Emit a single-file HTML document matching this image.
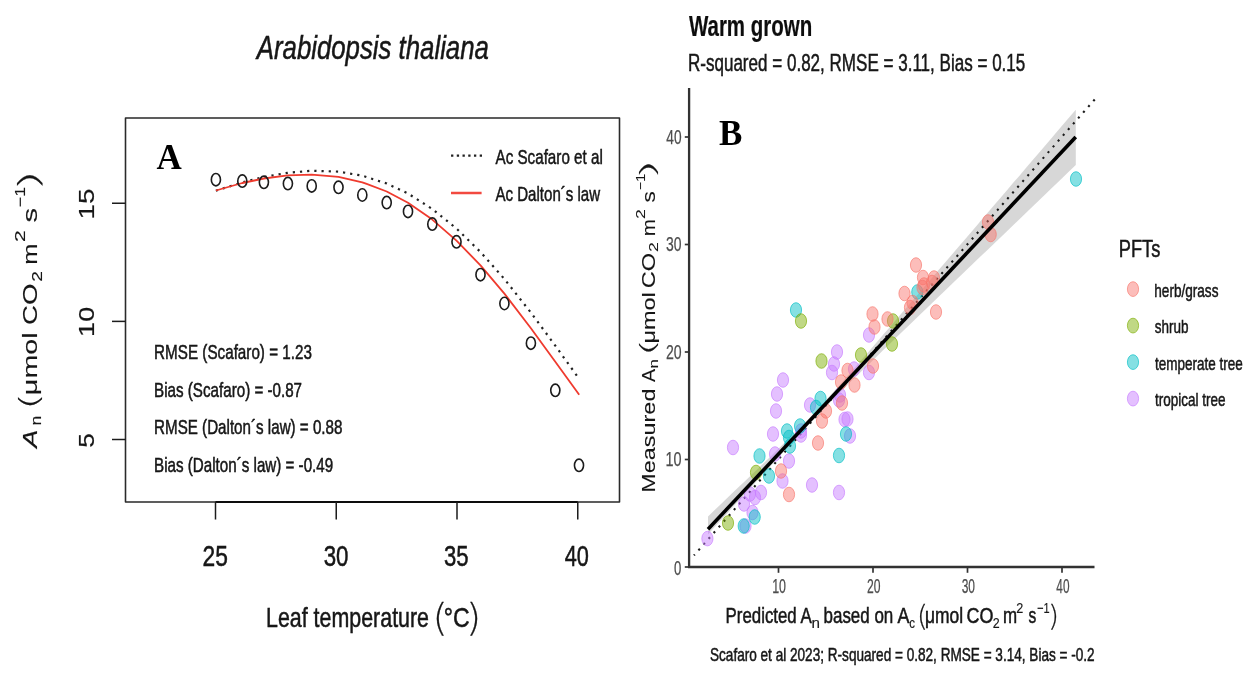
<!DOCTYPE html>
<html lang="en"><head><meta charset="utf-8"><title>Figure: A. thaliana temperature response and warm-grown model fit</title>
<style>
html,body{margin:0;padding:0;background:#fff;}
body{width:1256px;height:680px;overflow:hidden;font-family:"Liberation Sans", sans-serif;}
svg{display:block;}
text{font-family:"Liberation Sans", sans-serif;}
text.sf{font-family:"Liberation Serif", serif;}
text.lt{font-family:"DejaVu Sans", "Liberation Sans", sans-serif;font-weight:200;}
</style></head><body>
<svg width="1256" height="680" viewBox="0 0 1256 680">
<defs><filter id="soft" x="0" y="0" width="100%" height="100%" filterUnits="userSpaceOnUse"><feGaussianBlur stdDeviation="0.45"/></filter></defs>
<rect width="1256" height="680" fill="#fff"/>
<g filter="url(#soft)" fill="#151515">
<g id="left-plot">
<text x="256.79" y="58.6" textLength="232.08" lengthAdjust="spacingAndGlyphs" font-size="33" font-style="italic" stroke="#151515" stroke-width="0.5">Arabidopsis thaliana</text>
<rect x="125.5" y="118" width="494.0" height="384" fill="none" stroke="#2a2a2a" stroke-width="1.6" stroke-linejoin="round"/>
<path d="M215.5 502H577.75" stroke="#111" stroke-width="2.2" fill="none"/>
<path d="M215.50 502V519.5" stroke="#1c1c1c" stroke-width="1.5" fill="none"/>
<path d="M336.25 502V519.5" stroke="#1c1c1c" stroke-width="1.5" fill="none"/>
<path d="M457.00 502V519.5" stroke="#1c1c1c" stroke-width="1.5" fill="none"/>
<path d="M577.75 502V519.5" stroke="#1c1c1c" stroke-width="1.5" fill="none"/>
<path d="M112 439.50H125.5" stroke="#1c1c1c" stroke-width="1.5" fill="none"/>
<path d="M112 321.38H125.5" stroke="#1c1c1c" stroke-width="1.5" fill="none"/>
<path d="M112 203.25H125.5" stroke="#1c1c1c" stroke-width="1.5" fill="none"/>
<text x="202.61" y="565.6" textLength="25.35" lengthAdjust="spacingAndGlyphs" font-size="29.2" stroke="#151515" stroke-width="0.5">25</text>
<text x="323.66" y="565.6" textLength="24.83" lengthAdjust="spacingAndGlyphs" font-size="29.2" stroke="#151515" stroke-width="0.5">30</text>
<text x="443.97" y="565.6" textLength="24.56" lengthAdjust="spacingAndGlyphs" font-size="29.2" stroke="#151515" stroke-width="0.5">35</text>
<text x="564.71" y="565.6" textLength="24.15" lengthAdjust="spacingAndGlyphs" font-size="29.2" stroke="#151515" stroke-width="0.5">40</text>
<text x="265.99" y="627.3" textLength="163.04" lengthAdjust="spacingAndGlyphs" font-size="27.2" stroke="#151515" stroke-width="0.5">Leaf temperature</text>
<text transform="translate(0,629.93) scale(1,1.1040)" x="432.64" y="0" textLength="14.74" lengthAdjust="spacingAndGlyphs" font-size="34" class="lt" stroke="#151515" stroke-width="0.25">(</text>
<text x="443.67" y="627.3" textLength="25.88" lengthAdjust="spacingAndGlyphs" font-size="27.2" stroke="#151515" stroke-width="0.5">°C</text>
<text transform="translate(0,629.93) scale(1,1.1040)" x="466.34" y="0" textLength="14.74" lengthAdjust="spacingAndGlyphs" font-size="34" class="lt" stroke="#151515" stroke-width="0.25">)</text>
<text transform="translate(94.08,0) rotate(-90) scale(1,0.8386)" x="-219.59" y="0" textLength="30.97" lengthAdjust="spacingAndGlyphs" font-size="26.5" stroke="#151515" stroke-width="0.2">15</text>
<text transform="translate(94.08,0) rotate(-90) scale(1,0.8267)" x="-336.93" y="0" textLength="30.11" lengthAdjust="spacingAndGlyphs" font-size="26.5" stroke="#151515" stroke-width="0.2">10</text>
<text transform="translate(94.08,0) rotate(-90) scale(1,0.8386)" x="-447.64" y="0" textLength="14.52" lengthAdjust="spacingAndGlyphs" font-size="26.5" stroke="#151515" stroke-width="0.2">5</text>
<text transform="translate(37.099999999999994,0) rotate(-90) scale(1,0.7850)" x="-447.92" y="0" textLength="18.35" lengthAdjust="spacingAndGlyphs" font-size="26.7" font-style="italic" stroke="#151515" stroke-width="0.15">A</text>
<text transform="translate(40.8,0) rotate(-90) scale(1,0.7850)" x="-425.54" y="0" textLength="9.76" lengthAdjust="spacingAndGlyphs" font-size="18.7" stroke="#151515" stroke-width="0.15">n</text>
<text transform="translate(37.94,0) rotate(-90) scale(1,0.7979)" x="-409.98" y="0" textLength="17.34" lengthAdjust="spacingAndGlyphs" font-size="33.7" class="lt" stroke="#151515" stroke-width="0.15">(</text>
<text transform="translate(37.3,0) rotate(-90) scale(1,0.7850)" x="-395.16" y="0" textLength="62.73" lengthAdjust="spacingAndGlyphs" font-size="26.7" stroke="#151515" stroke-width="0.15">μmol</text>
<text transform="translate(37.3,0) rotate(-90) scale(1,0.7850)" x="-324.98" y="0" textLength="41.50" lengthAdjust="spacingAndGlyphs" font-size="26.7" stroke="#151515" stroke-width="0.15">CO</text>
<text transform="translate(42.4,0) rotate(-90) scale(1,0.7850)" x="-281.76" y="0" textLength="10.70" lengthAdjust="spacingAndGlyphs" font-size="18.7" stroke="#151515" stroke-width="0.15">2</text>
<text transform="translate(37.3,0) rotate(-90) scale(1,0.7850)" x="-264.65" y="0" textLength="21.11" lengthAdjust="spacingAndGlyphs" font-size="26.7" stroke="#151515" stroke-width="0.15">m</text>
<text transform="translate(24.9,0) rotate(-90) scale(1,0.7850)" x="-242.05" y="0" textLength="11.67" lengthAdjust="spacingAndGlyphs" font-size="18.7" stroke="#151515" stroke-width="0.15">2</text>
<text transform="translate(37.3,0) rotate(-90) scale(1,0.7850)" x="-222.40" y="0" textLength="14.51" lengthAdjust="spacingAndGlyphs" font-size="26.7" stroke="#151515" stroke-width="0.15">s</text>
<text transform="translate(24.9,0) rotate(-90) scale(1,0.7850)" x="-207.14" y="0" textLength="20.18" lengthAdjust="spacingAndGlyphs" font-size="18.7" stroke="#151515" stroke-width="0.15">−1</text>
<text transform="translate(38.63,0) rotate(-90) scale(1,0.8445)" x="-192.39" y="0" textLength="23.19" lengthAdjust="spacingAndGlyphs" font-size="33.7" class="lt" stroke="#151515" stroke-width="0.15">)</text>
<path d="M215.9 190.7 L242.3 182.4 L263.9 177.0 L287.9 172.8 L311.7 170.7 L338.5 171.6 L362.3 175.7 L386.7 183.5 L408.0 193.5 L432.3 209.0 L456.5 228.5 L480.5 252.0 L504.4 279.0 L530.9 312.6 L555.3 345.7 L579.2 378.9" fill="none" stroke="#222" stroke-width="2.2" stroke-dasharray="2.2 5.0"/>
<path d="M215.9 190.5 L242.3 183.0 L263.9 178.5 L287.9 175.4 L311.7 174.6 L338.5 176.9 L362.3 182.3 L386.7 191.5 L408.0 202.8 L432.3 219.6 L456.5 240.6 L480.5 265.4 L504.4 293.6 L530.9 328.2 L555.3 361.8 L579.2 394.7" fill="none" stroke="#ef3a2e" stroke-width="1.8" stroke-linejoin="round"/>
<ellipse cx="215.9" cy="179.7" rx="4.55" ry="6.2" fill="none" stroke="#1a1a1a" stroke-width="1.6"/>
<ellipse cx="242.3" cy="181.1" rx="4.55" ry="6.2" fill="none" stroke="#1a1a1a" stroke-width="1.6"/>
<ellipse cx="263.9" cy="182.3" rx="4.55" ry="6.2" fill="none" stroke="#1a1a1a" stroke-width="1.6"/>
<ellipse cx="287.9" cy="183.6" rx="4.55" ry="6.2" fill="none" stroke="#1a1a1a" stroke-width="1.6"/>
<ellipse cx="311.7" cy="185.9" rx="4.55" ry="6.2" fill="none" stroke="#1a1a1a" stroke-width="1.6"/>
<ellipse cx="338.5" cy="187.3" rx="4.55" ry="6.2" fill="none" stroke="#1a1a1a" stroke-width="1.6"/>
<ellipse cx="362.3" cy="195.0" rx="4.55" ry="6.2" fill="none" stroke="#1a1a1a" stroke-width="1.6"/>
<ellipse cx="386.7" cy="202.6" rx="4.55" ry="6.2" fill="none" stroke="#1a1a1a" stroke-width="1.6"/>
<ellipse cx="408.0" cy="211.4" rx="4.55" ry="6.2" fill="none" stroke="#1a1a1a" stroke-width="1.6"/>
<ellipse cx="432.3" cy="224.1" rx="4.55" ry="6.2" fill="none" stroke="#1a1a1a" stroke-width="1.6"/>
<ellipse cx="456.5" cy="241.8" rx="4.55" ry="6.2" fill="none" stroke="#1a1a1a" stroke-width="1.6"/>
<ellipse cx="480.5" cy="274.7" rx="4.55" ry="6.2" fill="none" stroke="#1a1a1a" stroke-width="1.6"/>
<ellipse cx="504.4" cy="303.5" rx="4.55" ry="6.2" fill="none" stroke="#1a1a1a" stroke-width="1.6"/>
<ellipse cx="530.9" cy="343.2" rx="4.55" ry="6.2" fill="none" stroke="#1a1a1a" stroke-width="1.6"/>
<ellipse cx="555.3" cy="390.3" rx="4.55" ry="6.2" fill="none" stroke="#1a1a1a" stroke-width="1.6"/>
<ellipse cx="579" cy="465.3" rx="4.55" ry="6.2" fill="none" stroke="#1a1a1a" stroke-width="1.6"/>
<path d="M451.05 155.7H482" stroke="#222" stroke-width="2.3" stroke-dasharray="2.3 3.43" fill="none"/>
<path d="M451 193H481.6" stroke="#f24a40" stroke-width="2.5" fill="none"/>
<text x="495.50" y="163.6" textLength="107.28" lengthAdjust="spacingAndGlyphs" font-size="20.3" stroke="#151515" stroke-width="0.5">Ac Scafaro et al</text>
<text x="495.50" y="201.2" textLength="104.55" lengthAdjust="spacingAndGlyphs" font-size="20.3" stroke="#151515" stroke-width="0.5">Ac Dalton´s law</text>
<text x="154.08" y="359.3" textLength="157.87" lengthAdjust="spacingAndGlyphs" font-size="19.8" stroke="#151515" stroke-width="0.5">RMSE (Scafaro) = 1.23</text>
<text x="154.09" y="396.8" textLength="147.97" lengthAdjust="spacingAndGlyphs" font-size="19.8" stroke="#151515" stroke-width="0.5">Bias (Scafaro) = -0.87</text>
<text x="154.09" y="434.1" textLength="188.34" lengthAdjust="spacingAndGlyphs" font-size="19.8" stroke="#151515" stroke-width="0.5">RMSE (Dalton´s law) = 0.88</text>
<text x="154.09" y="471.6" textLength="179.10" lengthAdjust="spacingAndGlyphs" font-size="19.8" stroke="#151515" stroke-width="0.5">Bias (Dalton´s law) = -0.49</text>
<text x="156.6" y="168.8" font-size="35" font-weight="bold" fill="#000" class="sf">A</text>
</g>
<g id="right-plot">
<text x="688.90" y="36.0" textLength="123.36" lengthAdjust="spacingAndGlyphs" font-size="29" fill="#111" font-weight="bold" stroke="#111" stroke-width="0.2">Warm grown</text>
<text x="687.94" y="71.4" textLength="337.37" lengthAdjust="spacingAndGlyphs" font-size="24.3" stroke="#151515" stroke-width="0.5">R-squared = 0.82, RMSE = 3.11, Bias = 0.15</text>
<path d="M708.0 516.4 L714.2 510.5 L720.5 504.5 L726.7 498.6 L732.9 492.6 L739.2 486.6 L745.4 480.7 L751.6 474.7 L757.9 468.7 L764.1 462.7 L770.3 456.7 L776.6 450.6 L782.8 444.6 L789.0 438.5 L795.3 432.3 L801.5 426.0 L807.7 419.7 L814.0 413.2 L820.2 406.5 L826.4 399.7 L832.7 392.8 L838.9 385.7 L845.1 378.7 L851.4 371.5 L857.6 364.4 L863.8 357.2 L870.1 350.0 L876.3 342.7 L882.5 335.5 L888.8 328.2 L895.0 321.0 L901.2 313.7 L907.5 306.5 L913.7 299.2 L919.9 291.9 L926.2 284.6 L932.4 277.4 L938.6 270.1 L944.9 262.8 L951.1 255.5 L957.3 248.2 L963.6 241.0 L969.8 233.7 L976.0 226.4 L982.3 219.1 L988.5 211.8 L994.7 204.5 L1001.0 197.2 L1007.2 189.9 L1013.4 182.6 L1019.7 175.4 L1025.9 168.1 L1032.1 160.8 L1038.4 153.5 L1044.6 146.2 L1050.8 138.9 L1057.1 131.6 L1063.3 124.3 L1069.5 117.0 L1075.8 109.7 L1075.8 165.1 L1069.5 171.1 L1063.3 177.1 L1057.1 183.1 L1050.8 189.0 L1044.6 195.0 L1038.4 201.0 L1032.1 207.0 L1025.9 213.0 L1019.7 218.9 L1013.4 224.9 L1007.2 230.9 L1001.0 236.9 L994.7 242.9 L988.5 248.9 L982.3 254.8 L976.0 260.8 L969.8 266.8 L963.6 272.8 L957.3 278.8 L951.1 284.8 L944.9 290.8 L938.6 296.8 L932.4 302.8 L926.2 308.8 L919.9 314.8 L913.7 320.8 L907.5 326.8 L901.2 332.8 L895.0 338.8 L888.8 344.8 L882.5 350.8 L876.3 356.9 L870.1 362.9 L863.8 369.0 L857.6 375.0 L851.4 381.1 L845.1 387.3 L838.9 393.5 L832.7 399.7 L826.4 406.1 L820.2 412.6 L814.0 419.2 L807.7 425.8 L801.5 432.5 L795.3 439.2 L789.0 446.0 L782.8 452.7 L776.6 459.5 L770.3 466.2 L764.1 473.0 L757.9 479.8 L751.6 486.6 L745.4 493.4 L739.2 500.3 L732.9 507.1 L726.7 513.9 L720.5 520.8 L714.2 527.6 L708.0 534.5Z" fill="#999" fill-opacity="0.39" stroke="none"/>
<path d="M1094.7 99.5L694.0 555.4" stroke="#1a1a1a" stroke-width="2.1" stroke-dasharray="2.1 5.568" fill="none"/>
<ellipse cx="707.4" cy="538.6" rx="5.6" ry="7.3" fill="#C77CFF" fill-opacity="0.48" stroke="#C77CFF" stroke-opacity="0.65" stroke-width="1"/>
<ellipse cx="733" cy="447.5" rx="5.6" ry="7.3" fill="#C77CFF" fill-opacity="0.48" stroke="#C77CFF" stroke-opacity="0.65" stroke-width="1"/>
<ellipse cx="776" cy="411" rx="5.6" ry="7.3" fill="#C77CFF" fill-opacity="0.48" stroke="#C77CFF" stroke-opacity="0.65" stroke-width="1"/>
<ellipse cx="773" cy="434" rx="5.6" ry="7.3" fill="#C77CFF" fill-opacity="0.48" stroke="#C77CFF" stroke-opacity="0.65" stroke-width="1"/>
<ellipse cx="775" cy="454" rx="5.6" ry="7.3" fill="#C77CFF" fill-opacity="0.48" stroke="#C77CFF" stroke-opacity="0.65" stroke-width="1"/>
<ellipse cx="789" cy="461" rx="5.6" ry="7.3" fill="#C77CFF" fill-opacity="0.48" stroke="#C77CFF" stroke-opacity="0.65" stroke-width="1"/>
<ellipse cx="782.5" cy="481" rx="5.6" ry="7.3" fill="#C77CFF" fill-opacity="0.48" stroke="#C77CFF" stroke-opacity="0.65" stroke-width="1"/>
<ellipse cx="812" cy="485" rx="5.6" ry="7.3" fill="#C77CFF" fill-opacity="0.48" stroke="#C77CFF" stroke-opacity="0.65" stroke-width="1"/>
<ellipse cx="839" cy="492.5" rx="5.6" ry="7.3" fill="#C77CFF" fill-opacity="0.48" stroke="#C77CFF" stroke-opacity="0.65" stroke-width="1"/>
<ellipse cx="761" cy="492.5" rx="5.6" ry="7.3" fill="#C77CFF" fill-opacity="0.48" stroke="#C77CFF" stroke-opacity="0.65" stroke-width="1"/>
<ellipse cx="755" cy="497.5" rx="5.6" ry="7.3" fill="#C77CFF" fill-opacity="0.48" stroke="#C77CFF" stroke-opacity="0.65" stroke-width="1"/>
<ellipse cx="750" cy="494" rx="5.6" ry="7.3" fill="#C77CFF" fill-opacity="0.48" stroke="#C77CFF" stroke-opacity="0.65" stroke-width="1"/>
<ellipse cx="744" cy="504" rx="5.6" ry="7.3" fill="#C77CFF" fill-opacity="0.48" stroke="#C77CFF" stroke-opacity="0.65" stroke-width="1"/>
<ellipse cx="752.5" cy="512.5" rx="5.6" ry="7.3" fill="#C77CFF" fill-opacity="0.48" stroke="#C77CFF" stroke-opacity="0.65" stroke-width="1"/>
<ellipse cx="745.5" cy="526" rx="5.6" ry="7.3" fill="#C77CFF" fill-opacity="0.48" stroke="#C77CFF" stroke-opacity="0.65" stroke-width="1"/>
<ellipse cx="847.5" cy="419" rx="5.6" ry="7.3" fill="#C77CFF" fill-opacity="0.48" stroke="#C77CFF" stroke-opacity="0.65" stroke-width="1"/>
<ellipse cx="850" cy="436" rx="5.6" ry="7.3" fill="#C77CFF" fill-opacity="0.48" stroke="#C77CFF" stroke-opacity="0.65" stroke-width="1"/>
<ellipse cx="801" cy="431" rx="5.6" ry="7.3" fill="#C77CFF" fill-opacity="0.48" stroke="#C77CFF" stroke-opacity="0.65" stroke-width="1"/>
<ellipse cx="810" cy="405" rx="5.6" ry="7.3" fill="#C77CFF" fill-opacity="0.48" stroke="#C77CFF" stroke-opacity="0.65" stroke-width="1"/>
<ellipse cx="839" cy="400" rx="5.6" ry="7.3" fill="#C77CFF" fill-opacity="0.48" stroke="#C77CFF" stroke-opacity="0.65" stroke-width="1"/>
<ellipse cx="837" cy="352" rx="5.6" ry="7.3" fill="#C77CFF" fill-opacity="0.48" stroke="#C77CFF" stroke-opacity="0.65" stroke-width="1"/>
<ellipse cx="834" cy="364" rx="5.6" ry="7.3" fill="#C77CFF" fill-opacity="0.48" stroke="#C77CFF" stroke-opacity="0.65" stroke-width="1"/>
<ellipse cx="832" cy="372.5" rx="5.6" ry="7.3" fill="#C77CFF" fill-opacity="0.48" stroke="#C77CFF" stroke-opacity="0.65" stroke-width="1"/>
<ellipse cx="783" cy="380" rx="5.6" ry="7.3" fill="#C77CFF" fill-opacity="0.48" stroke="#C77CFF" stroke-opacity="0.65" stroke-width="1"/>
<ellipse cx="777" cy="394" rx="5.6" ry="7.3" fill="#C77CFF" fill-opacity="0.48" stroke="#C77CFF" stroke-opacity="0.65" stroke-width="1"/>
<ellipse cx="869" cy="335" rx="5.6" ry="7.3" fill="#C77CFF" fill-opacity="0.48" stroke="#C77CFF" stroke-opacity="0.65" stroke-width="1"/>
<ellipse cx="869" cy="372.5" rx="5.6" ry="7.3" fill="#C77CFF" fill-opacity="0.48" stroke="#C77CFF" stroke-opacity="0.65" stroke-width="1"/>
<ellipse cx="854" cy="369" rx="5.6" ry="7.3" fill="#C77CFF" fill-opacity="0.48" stroke="#C77CFF" stroke-opacity="0.65" stroke-width="1"/>
<ellipse cx="840" cy="395" rx="5.6" ry="7.3" fill="#C77CFF" fill-opacity="0.48" stroke="#C77CFF" stroke-opacity="0.65" stroke-width="1"/>
<ellipse cx="844.5" cy="419.5" rx="5.6" ry="7.3" fill="#C77CFF" fill-opacity="0.48" stroke="#C77CFF" stroke-opacity="0.65" stroke-width="1"/>
<ellipse cx="801" cy="435" rx="5.6" ry="7.3" fill="#C77CFF" fill-opacity="0.48" stroke="#C77CFF" stroke-opacity="0.65" stroke-width="1"/>
<ellipse cx="759.5" cy="456" rx="5.6" ry="7.3" fill="#00BFC4" fill-opacity="0.48" stroke="#00BFC4" stroke-opacity="0.65" stroke-width="1"/>
<ellipse cx="787" cy="431" rx="5.6" ry="7.3" fill="#00BFC4" fill-opacity="0.48" stroke="#00BFC4" stroke-opacity="0.65" stroke-width="1"/>
<ellipse cx="789" cy="437.5" rx="5.6" ry="7.3" fill="#00BFC4" fill-opacity="0.48" stroke="#00BFC4" stroke-opacity="0.65" stroke-width="1"/>
<ellipse cx="790" cy="446" rx="5.6" ry="7.3" fill="#00BFC4" fill-opacity="0.48" stroke="#00BFC4" stroke-opacity="0.65" stroke-width="1"/>
<ellipse cx="800" cy="426" rx="5.6" ry="7.3" fill="#00BFC4" fill-opacity="0.48" stroke="#00BFC4" stroke-opacity="0.65" stroke-width="1"/>
<ellipse cx="769" cy="476" rx="5.6" ry="7.3" fill="#00BFC4" fill-opacity="0.48" stroke="#00BFC4" stroke-opacity="0.65" stroke-width="1"/>
<ellipse cx="839" cy="455.5" rx="5.6" ry="7.3" fill="#00BFC4" fill-opacity="0.48" stroke="#00BFC4" stroke-opacity="0.65" stroke-width="1"/>
<ellipse cx="846" cy="434" rx="5.6" ry="7.3" fill="#00BFC4" fill-opacity="0.48" stroke="#00BFC4" stroke-opacity="0.65" stroke-width="1"/>
<ellipse cx="754.7" cy="517" rx="5.6" ry="7.3" fill="#00BFC4" fill-opacity="0.48" stroke="#00BFC4" stroke-opacity="0.65" stroke-width="1"/>
<ellipse cx="743.7" cy="526" rx="5.6" ry="7.3" fill="#00BFC4" fill-opacity="0.48" stroke="#00BFC4" stroke-opacity="0.65" stroke-width="1"/>
<ellipse cx="816" cy="407.5" rx="5.6" ry="7.3" fill="#00BFC4" fill-opacity="0.48" stroke="#00BFC4" stroke-opacity="0.65" stroke-width="1"/>
<ellipse cx="820.5" cy="398.5" rx="5.6" ry="7.3" fill="#00BFC4" fill-opacity="0.48" stroke="#00BFC4" stroke-opacity="0.65" stroke-width="1"/>
<ellipse cx="796" cy="310" rx="5.6" ry="7.3" fill="#00BFC4" fill-opacity="0.48" stroke="#00BFC4" stroke-opacity="0.65" stroke-width="1"/>
<ellipse cx="917.3" cy="292" rx="5.6" ry="7.3" fill="#00BFC4" fill-opacity="0.48" stroke="#00BFC4" stroke-opacity="0.65" stroke-width="1"/>
<ellipse cx="1076" cy="179" rx="5.6" ry="7.3" fill="#00BFC4" fill-opacity="0.48" stroke="#00BFC4" stroke-opacity="0.65" stroke-width="1"/>
<ellipse cx="756" cy="472.5" rx="5.6" ry="7.3" fill="#7CAE00" fill-opacity="0.48" stroke="#7CAE00" stroke-opacity="0.65" stroke-width="1"/>
<ellipse cx="728" cy="523" rx="5.6" ry="7.3" fill="#7CAE00" fill-opacity="0.48" stroke="#7CAE00" stroke-opacity="0.65" stroke-width="1"/>
<ellipse cx="801" cy="321" rx="5.6" ry="7.3" fill="#7CAE00" fill-opacity="0.48" stroke="#7CAE00" stroke-opacity="0.65" stroke-width="1"/>
<ellipse cx="821.5" cy="361" rx="5.6" ry="7.3" fill="#7CAE00" fill-opacity="0.48" stroke="#7CAE00" stroke-opacity="0.65" stroke-width="1"/>
<ellipse cx="861" cy="355" rx="5.6" ry="7.3" fill="#7CAE00" fill-opacity="0.48" stroke="#7CAE00" stroke-opacity="0.65" stroke-width="1"/>
<ellipse cx="892" cy="344" rx="5.6" ry="7.3" fill="#7CAE00" fill-opacity="0.48" stroke="#7CAE00" stroke-opacity="0.65" stroke-width="1"/>
<ellipse cx="893" cy="321" rx="5.6" ry="7.3" fill="#7CAE00" fill-opacity="0.48" stroke="#7CAE00" stroke-opacity="0.65" stroke-width="1"/>
<ellipse cx="818" cy="443" rx="5.6" ry="7.3" fill="#F8766D" fill-opacity="0.48" stroke="#F8766D" stroke-opacity="0.65" stroke-width="1"/>
<ellipse cx="822" cy="421" rx="5.6" ry="7.3" fill="#F8766D" fill-opacity="0.48" stroke="#F8766D" stroke-opacity="0.65" stroke-width="1"/>
<ellipse cx="826" cy="411" rx="5.6" ry="7.3" fill="#F8766D" fill-opacity="0.48" stroke="#F8766D" stroke-opacity="0.65" stroke-width="1"/>
<ellipse cx="842" cy="403" rx="5.6" ry="7.3" fill="#F8766D" fill-opacity="0.48" stroke="#F8766D" stroke-opacity="0.65" stroke-width="1"/>
<ellipse cx="781" cy="471" rx="5.6" ry="7.3" fill="#F8766D" fill-opacity="0.48" stroke="#F8766D" stroke-opacity="0.65" stroke-width="1"/>
<ellipse cx="789" cy="494.5" rx="5.6" ry="7.3" fill="#F8766D" fill-opacity="0.48" stroke="#F8766D" stroke-opacity="0.65" stroke-width="1"/>
<ellipse cx="872.5" cy="314" rx="5.6" ry="7.3" fill="#F8766D" fill-opacity="0.48" stroke="#F8766D" stroke-opacity="0.65" stroke-width="1"/>
<ellipse cx="874.5" cy="327" rx="5.6" ry="7.3" fill="#F8766D" fill-opacity="0.48" stroke="#F8766D" stroke-opacity="0.65" stroke-width="1"/>
<ellipse cx="887.5" cy="319" rx="5.6" ry="7.3" fill="#F8766D" fill-opacity="0.48" stroke="#F8766D" stroke-opacity="0.65" stroke-width="1"/>
<ellipse cx="904.5" cy="293.5" rx="5.6" ry="7.3" fill="#F8766D" fill-opacity="0.48" stroke="#F8766D" stroke-opacity="0.65" stroke-width="1"/>
<ellipse cx="912.5" cy="302.5" rx="5.6" ry="7.3" fill="#F8766D" fill-opacity="0.48" stroke="#F8766D" stroke-opacity="0.65" stroke-width="1"/>
<ellipse cx="936" cy="312" rx="5.6" ry="7.3" fill="#F8766D" fill-opacity="0.48" stroke="#F8766D" stroke-opacity="0.65" stroke-width="1"/>
<ellipse cx="924" cy="285" rx="5.6" ry="7.3" fill="#F8766D" fill-opacity="0.48" stroke="#F8766D" stroke-opacity="0.65" stroke-width="1"/>
<ellipse cx="932" cy="282.5" rx="5.6" ry="7.3" fill="#F8766D" fill-opacity="0.48" stroke="#F8766D" stroke-opacity="0.65" stroke-width="1"/>
<ellipse cx="847.5" cy="370.5" rx="5.6" ry="7.3" fill="#F8766D" fill-opacity="0.48" stroke="#F8766D" stroke-opacity="0.65" stroke-width="1"/>
<ellipse cx="873" cy="366" rx="5.6" ry="7.3" fill="#F8766D" fill-opacity="0.48" stroke="#F8766D" stroke-opacity="0.65" stroke-width="1"/>
<ellipse cx="841" cy="382" rx="5.6" ry="7.3" fill="#F8766D" fill-opacity="0.48" stroke="#F8766D" stroke-opacity="0.65" stroke-width="1"/>
<ellipse cx="854.5" cy="385" rx="5.6" ry="7.3" fill="#F8766D" fill-opacity="0.48" stroke="#F8766D" stroke-opacity="0.65" stroke-width="1"/>
<ellipse cx="916" cy="265" rx="5.6" ry="7.3" fill="#F8766D" fill-opacity="0.48" stroke="#F8766D" stroke-opacity="0.65" stroke-width="1"/>
<ellipse cx="923" cy="277.5" rx="5.6" ry="7.3" fill="#F8766D" fill-opacity="0.48" stroke="#F8766D" stroke-opacity="0.65" stroke-width="1"/>
<ellipse cx="934" cy="278" rx="5.6" ry="7.3" fill="#F8766D" fill-opacity="0.48" stroke="#F8766D" stroke-opacity="0.65" stroke-width="1"/>
<ellipse cx="922.5" cy="287.5" rx="5.6" ry="7.3" fill="#F8766D" fill-opacity="0.48" stroke="#F8766D" stroke-opacity="0.65" stroke-width="1"/>
<ellipse cx="910" cy="307.5" rx="5.6" ry="7.3" fill="#F8766D" fill-opacity="0.48" stroke="#F8766D" stroke-opacity="0.65" stroke-width="1"/>
<ellipse cx="988" cy="222" rx="5.6" ry="7.3" fill="#F8766D" fill-opacity="0.48" stroke="#F8766D" stroke-opacity="0.65" stroke-width="1"/>
<ellipse cx="990.7" cy="234.5" rx="5.6" ry="7.3" fill="#F8766D" fill-opacity="0.48" stroke="#F8766D" stroke-opacity="0.65" stroke-width="1"/>
<path d="M708 529.2L1075.75 136.9" stroke="#000" stroke-width="3.6" fill="none"/>
<path d="M689.1 88V567H1094.5" stroke="#333" stroke-width="2.3" fill="none"/>
<path d="M684.8 567.00H689" stroke="#333" stroke-width="1.7" fill="none"/>
<text x="673.91" y="574.7" textLength="7.30" lengthAdjust="spacingAndGlyphs" font-size="20.3" fill="#4d4d4d" stroke="#4d4d4d" stroke-width="0.25">0</text>
<path d="M684.8 459.50H689" stroke="#333" stroke-width="1.7" fill="none"/>
<text x="665.52" y="466.3" textLength="16.06" lengthAdjust="spacingAndGlyphs" font-size="20.3" fill="#4d4d4d" stroke="#4d4d4d" stroke-width="0.25">10</text>
<path d="M684.8 352.00H689" stroke="#333" stroke-width="1.7" fill="none"/>
<text x="665.90" y="358.8" textLength="15.67" lengthAdjust="spacingAndGlyphs" font-size="20.3" fill="#4d4d4d" stroke="#4d4d4d" stroke-width="0.25">20</text>
<path d="M684.8 244.50H689" stroke="#333" stroke-width="1.7" fill="none"/>
<text x="666.08" y="251.3" textLength="15.48" lengthAdjust="spacingAndGlyphs" font-size="20.3" fill="#4d4d4d" stroke="#4d4d4d" stroke-width="0.25">30</text>
<path d="M684.8 137.00H689" stroke="#333" stroke-width="1.7" fill="none"/>
<text x="666.29" y="143.8" textLength="15.25" lengthAdjust="spacingAndGlyphs" font-size="20.3" fill="#4d4d4d" stroke="#4d4d4d" stroke-width="0.25">40</text>
<path d="M778.50 567V572.8" stroke="#333" stroke-width="1.7" fill="none"/>
<text x="772.17" y="592.5" textLength="13.83" lengthAdjust="spacingAndGlyphs" font-size="20.3" fill="#4d4d4d" stroke="#4d4d4d" stroke-width="0.25">10</text>
<path d="M873.00 567V572.8" stroke="#333" stroke-width="1.7" fill="none"/>
<text x="866.99" y="592.5" textLength="13.49" lengthAdjust="spacingAndGlyphs" font-size="20.3" fill="#4d4d4d" stroke="#4d4d4d" stroke-width="0.25">20</text>
<path d="M967.50 567V572.8" stroke="#333" stroke-width="1.7" fill="none"/>
<text x="961.65" y="592.5" textLength="13.33" lengthAdjust="spacingAndGlyphs" font-size="20.3" fill="#4d4d4d" stroke="#4d4d4d" stroke-width="0.25">30</text>
<path d="M1062.00 567V572.8" stroke="#333" stroke-width="1.7" fill="none"/>
<text x="1056.33" y="592.5" textLength="13.14" lengthAdjust="spacingAndGlyphs" font-size="20.3" fill="#4d4d4d" stroke="#4d4d4d" stroke-width="0.25">40</text>
<text x="725.55" y="623.4" textLength="86.18" lengthAdjust="spacingAndGlyphs" font-size="21.6" stroke="#151515" stroke-width="0.5">Predicted A</text>
<text x="811.41" y="628.4" textLength="8.46" lengthAdjust="spacingAndGlyphs" font-size="14.5" stroke="#151515" stroke-width="0.15">n</text>
<text x="823.54" y="623.4" textLength="69.76" lengthAdjust="spacingAndGlyphs" font-size="21.6" stroke="#151515" stroke-width="0.5">based on</text>
<text x="897.50" y="623.4" textLength="11.94" lengthAdjust="spacingAndGlyphs" font-size="21.6" stroke="#151515" stroke-width="0.5">A</text>
<text x="909.31" y="628.4" textLength="5.78" lengthAdjust="spacingAndGlyphs" font-size="14.5" stroke="#151515" stroke-width="0.15">c</text>
<text transform="translate(0,625.74) scale(1,1.0790)" x="917.11" y="0" textLength="10.84" lengthAdjust="spacingAndGlyphs" font-size="27" class="lt" stroke="#151515" stroke-width="0.25">(</text>
<text x="924.97" y="623.4" textLength="38.17" lengthAdjust="spacingAndGlyphs" font-size="21.6" stroke="#151515" stroke-width="0.5">μmol</text>
<text x="966.51" y="623.4" textLength="26.85" lengthAdjust="spacingAndGlyphs" font-size="21.6" stroke="#151515" stroke-width="0.5">CO</text>
<text x="992.68" y="628.4" textLength="6.93" lengthAdjust="spacingAndGlyphs" font-size="14.5" stroke="#151515" stroke-width="0.15">2</text>
<text x="1003.10" y="623.4" textLength="14.11" lengthAdjust="spacingAndGlyphs" font-size="21.6" stroke="#151515" stroke-width="0.5">m</text>
<text x="1016.17" y="613.4" textLength="7.05" lengthAdjust="spacingAndGlyphs" font-size="14.5" stroke="#151515" stroke-width="0.15">2</text>
<text x="1028.57" y="623.4" textLength="7.77" lengthAdjust="spacingAndGlyphs" font-size="21.6" stroke="#151515" stroke-width="0.5">s</text>
<text x="1037.08" y="613.4" textLength="12.55" lengthAdjust="spacingAndGlyphs" font-size="14.5" stroke="#151515" stroke-width="0.15">−1</text>
<text transform="translate(0,625.74) scale(1,1.0790)" x="1048.37" y="0" textLength="10.62" lengthAdjust="spacingAndGlyphs" font-size="27" class="lt" stroke="#151515" stroke-width="0.25">)</text>
<text x="709.99" y="660.7" textLength="384.66" lengthAdjust="spacingAndGlyphs" font-size="18.5" stroke="#151515" stroke-width="0.5">Scafaro et al 2023; R-squared = 0.82, RMSE = 3.14, Bias = -0.2</text>
<text transform="translate(655.0,0) rotate(-90) scale(1,0.8000)" x="-492.67" y="0" textLength="104.08" lengthAdjust="spacingAndGlyphs" font-size="23.5" stroke="#151515" stroke-width="0.1">Measured</text>
<text transform="translate(655.0,0) rotate(-90) scale(1,0.8000)" x="-382.10" y="0" textLength="13.04" lengthAdjust="spacingAndGlyphs" font-size="23.5" stroke="#151515" stroke-width="0.1">A</text>
<text transform="translate(657.8,0) rotate(-90) scale(1,0.8000)" x="-368.48" y="0" textLength="9.24" lengthAdjust="spacingAndGlyphs" font-size="16.5" stroke="#151515" stroke-width="0.1">n</text>
<text transform="translate(654.89,0) rotate(-90) scale(1,0.7320)" x="-356.46" y="0" textLength="17.99" lengthAdjust="spacingAndGlyphs" font-size="30" class="lt" stroke="#151515" stroke-width="0.15">(</text>
<text transform="translate(655.0,0) rotate(-90) scale(1,0.8000)" x="-343.53" y="0" textLength="51.35" lengthAdjust="spacingAndGlyphs" font-size="23.5" stroke="#151515" stroke-width="0.1">μmol</text>
<text transform="translate(655.0,0) rotate(-90) scale(1,0.8000)" x="-288.28" y="0" textLength="35.40" lengthAdjust="spacingAndGlyphs" font-size="23.5" stroke="#151515" stroke-width="0.1">CO</text>
<text transform="translate(658,0) rotate(-90) scale(1,0.8000)" x="-251.99" y="0" textLength="9.85" lengthAdjust="spacingAndGlyphs" font-size="16.5" stroke="#151515" stroke-width="0.1">2</text>
<text transform="translate(655.0,0) rotate(-90) scale(1,0.8000)" x="-236.33" y="0" textLength="17.08" lengthAdjust="spacingAndGlyphs" font-size="23.5" stroke="#151515" stroke-width="0.1">m</text>
<text transform="translate(644.7,0) rotate(-90) scale(1,0.8000)" x="-218.99" y="0" textLength="9.85" lengthAdjust="spacingAndGlyphs" font-size="16.5" stroke="#151515" stroke-width="0.1">2</text>
<text transform="translate(655.0,0) rotate(-90) scale(1,0.8000)" x="-202.52" y="0" textLength="11.31" lengthAdjust="spacingAndGlyphs" font-size="23.5" stroke="#151515" stroke-width="0.1">s</text>
<text transform="translate(644.7,0) rotate(-90) scale(1,0.8000)" x="-190.07" y="0" textLength="16.04" lengthAdjust="spacingAndGlyphs" font-size="16.5" stroke="#151515" stroke-width="0.1">−1</text>
<text transform="translate(655.12,0) rotate(-90) scale(1,0.7246)" x="-180.69" y="0" textLength="22.11" lengthAdjust="spacingAndGlyphs" font-size="30" class="lt" stroke="#151515" stroke-width="0.15">)</text>
<text x="1118.84" y="257.0" textLength="41.50" lengthAdjust="spacingAndGlyphs" font-size="23.8" stroke="#151515" stroke-width="0.5">PFTs</text>
<ellipse cx="1133" cy="289.1" rx="5.6" ry="7.4" fill="#F8766D" fill-opacity="0.48" stroke="#F8766D" stroke-opacity="0.65" stroke-width="1"/>
<text x="1154.28" y="296.5" textLength="64.19" lengthAdjust="spacingAndGlyphs" font-size="18.6" stroke="#151515" stroke-width="0.5">herb/grass</text>
<ellipse cx="1133" cy="325.6" rx="5.6" ry="7.4" fill="#7CAE00" fill-opacity="0.48" stroke="#7CAE00" stroke-opacity="0.65" stroke-width="1"/>
<text x="1154.83" y="333.0" textLength="33.73" lengthAdjust="spacingAndGlyphs" font-size="18.6" stroke="#151515" stroke-width="0.5">shrub</text>
<ellipse cx="1133" cy="362.1" rx="5.6" ry="7.4" fill="#00BFC4" fill-opacity="0.48" stroke="#00BFC4" stroke-opacity="0.65" stroke-width="1"/>
<text x="1155.00" y="369.5" textLength="87.79" lengthAdjust="spacingAndGlyphs" font-size="18.6" stroke="#151515" stroke-width="0.5">temperate tree</text>
<ellipse cx="1133" cy="398.6" rx="5.6" ry="7.4" fill="#C77CFF" fill-opacity="0.48" stroke="#C77CFF" stroke-opacity="0.65" stroke-width="1"/>
<text x="1155.00" y="406.0" textLength="70.61" lengthAdjust="spacingAndGlyphs" font-size="18.6" stroke="#151515" stroke-width="0.5">tropical tree</text>
<text x="719" y="145.2" font-size="35" font-weight="bold" fill="#000" class="sf">B</text>
</g>
</g>
</svg>
</body></html>
